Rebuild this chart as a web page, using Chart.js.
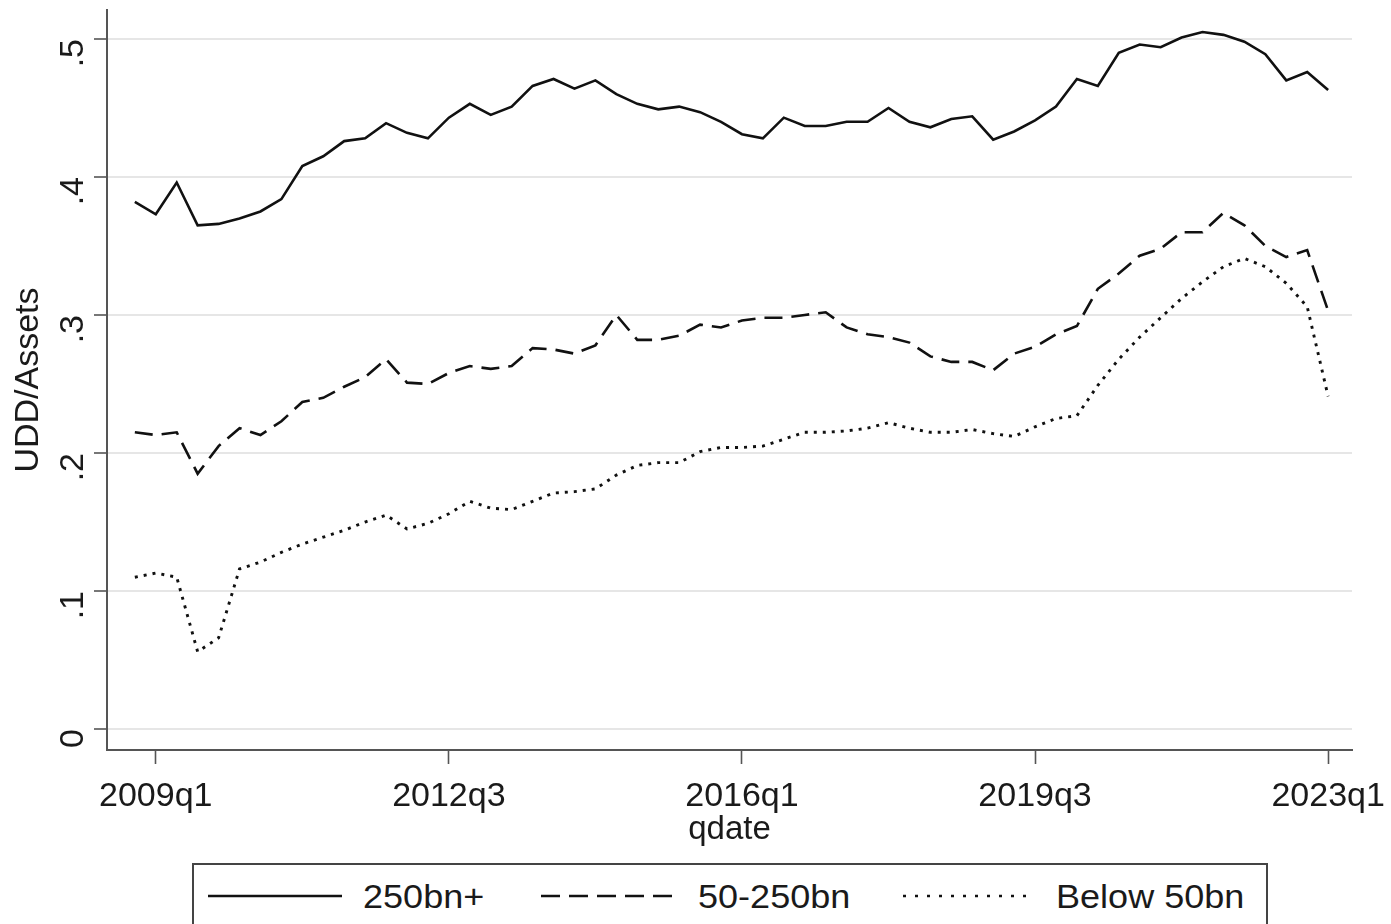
<!DOCTYPE html>
<html>
<head>
<meta charset="utf-8">
<script src="https://cdn.jsdelivr.net/npm/chart.js@4"></script>
<style>
  html, body { margin: 0; padding: 0; background: #fff; overflow: hidden; }
  #wrap { position: relative; width: 1391px; height: 924px; }
  #c { position: absolute; left: 0; top: 0; }
  #legend { position: absolute; left: 192px; top: 863px; width: 1076px; height: 90px;
            border: 2px solid #444; background: #fff; box-sizing: border-box;
            font-family: "Liberation Sans", Arial, sans-serif; font-size: 34px; color: #1a1a1a; }
  .item { position: absolute; top: 0; height: 62px; display: flex; align-items: center; }
  .item svg { display: block; }
  .item span { margin-left: 21px; white-space: nowrap; display: inline-block; transform: scaleX(1.06); transform-origin: left center; }
</style>
</head>
<body>
<div id="wrap">
  <canvas id="c" width="1391" height="924"></canvas>
  <div id="legend"></div>
</div>
<script>
const quarters = [
  "2008q4",
  "2009q1","2009q2","2009q3","2009q4",
  "2010q1","2010q2","2010q3","2010q4",
  "2011q1","2011q2","2011q3","2011q4",
  "2012q1","2012q2","2012q3","2012q4",
  "2013q1","2013q2","2013q3","2013q4",
  "2014q1","2014q2","2014q3","2014q4",
  "2015q1","2015q2","2015q3","2015q4",
  "2016q1","2016q2","2016q3","2016q4",
  "2017q1","2017q2","2017q3","2017q4",
  "2018q1","2018q2","2018q3","2018q4",
  "2019q1","2019q2","2019q3","2019q4",
  "2020q1","2020q2","2020q3","2020q4",
  "2021q1","2021q2","2021q3","2021q4",
  "2022q1","2022q2","2022q3","2022q4",
  "2023q1"
];

const seriesNames = ["250bn+", "50-250bn", "Below 50bn"];

const large = [0.382,0.373,0.396,0.365,0.366,0.370,0.375,0.384,0.408,0.415,
               0.426,0.428,0.439,0.432,0.428,0.443,0.453,0.445,0.451,0.466,
               0.471,0.464,0.470,0.460,0.453,0.449,0.451,0.447,0.440,0.431,
               0.428,0.443,0.437,0.437,0.440,0.440,0.450,0.440,0.436,0.442,
               0.444,0.427,0.433,0.441,0.451,0.471,0.466,0.490,0.496,0.494,
               0.501,0.505,0.503,0.498,0.489,0.470,0.476,0.463];

const mid = [0.215,0.213,0.215,0.185,0.205,0.218,0.213,0.223,0.237,0.240,
             0.248,0.255,0.268,0.251,0.250,0.258,0.263,0.261,0.263,0.276,
             0.275,0.272,0.278,0.300,0.282,0.282,0.285,0.293,0.291,0.296,
             0.298,0.298,0.300,0.302,0.291,0.286,0.284,0.280,0.270,0.266,
             0.266,0.260,0.272,0.277,0.286,0.292,0.319,0.330,0.343,0.348,
             0.360,0.360,0.374,0.365,0.350,0.342,0.347,0.303];

const small = [0.110,0.113,0.110,0.056,0.066,0.116,0.121,0.128,0.134,0.139,
               0.144,0.150,0.155,0.145,0.149,0.156,0.165,0.160,0.159,0.165,
               0.171,0.172,0.174,0.184,0.191,0.193,0.193,0.201,0.204,0.204,
               0.205,0.210,0.215,0.215,0.216,0.218,0.222,0.218,0.215,0.215,
               0.217,0.214,0.212,0.219,0.225,0.227,0.249,0.268,0.284,0.298,
               0.312,0.324,0.335,0.341,0.335,0.323,0.306,0.241];

const xTickLabels = ["2009q1","2012q3","2016q1","2019q3","2023q1"];
const yTickValues = [0, 0.1, 0.2, 0.3, 0.4, 0.5];
const yTickLabels = ["0", ".1", ".2", ".3", ".4", ".5"];

const dashes = [[], [18, 9], [3, 6]];
const widths = [2.6, 2.6, 2.9];
const FONT = "Liberation Sans, Arial, sans-serif";
const AXIS = "#555";
const TXT = "#1a1a1a";

function toPoints(arr) { return arr.map((v, i) => ({ x: i, y: v })); }
const xTickIdx = xTickLabels.map(l => quarters.indexOf(l));

const datasets = [large, mid, small].map((arr, k) => ({
  label: seriesNames[k],
  data: toPoints(arr),
  borderColor: "#111",
  borderWidth: widths[k],
  borderDash: dashes[k],
  pointRadius: 0,
  tension: 0,
  fill: false
}));

new Chart(document.getElementById("c"), {
  type: "line",
  data: { datasets },
  options: {
    responsive: false,
    animation: false,
    events: [],
    layout: { padding: { left: 0, right: 39, top: 10, bottom: 74 } },
    plugins: { legend: { display: false }, tooltip: { enabled: false } },
    scales: {
      x: {
        type: "linear",
        min: -1.33,
        max: 58.14,
        afterBuildTicks: s => { s.ticks = xTickIdx.map(v => ({ value: v })); },
        afterFit: s => { s.height = 100; s.paddingLeft = 0; s.paddingRight = 0; },
        ticks: {
          autoSkip: false, maxRotation: 0, minRotation: 0, padding: 12,
          color: TXT, font: { family: FONT, size: 34 },
          callback: v => quarters[v]
        },
        grid: { drawOnChartArea: false, drawTicks: true, tickLength: 14, tickColor: AXIS, tickWidth: 1.6 },
        border: { display: true, color: AXIS, width: 2 },
        title: { display: true, text: "qdate", color: TXT, font: { family: FONT, size: 33 }, padding: { top: -14, bottom: 0 } }
      },
      y: {
        type: "linear",
        min: -0.0152,
        max: 0.521,
        afterBuildTicks: s => { s.ticks = yTickValues.map(v => ({ value: v })); },
        afterFit: s => { s.width = 107; s.paddingTop = 0; s.paddingBottom = 0; },
        ticks: {
          autoSkip: false, minRotation: 90, maxRotation: 90, padding: 20,
          color: TXT, font: { family: FONT, size: 34 },
          callback: v => yTickLabels[yTickValues.indexOf(v)]
        },
        grid: { drawOnChartArea: true, color: "#e6e6e6", lineWidth: 2, drawTicks: true, tickLength: 13, tickColor: AXIS, tickWidth: 1.6 },
        border: { display: true, color: AXIS, width: 2 },
        title: { display: true, text: "UDD/Assets", color: TXT, font: { family: FONT, size: 34 }, padding: { top: 8, bottom: 0 } }
      }
    }
  }
});

// HTML legend
const legend = document.getElementById("legend");
const itemLeft = [14, 347, 709];
const sampleW = [134, 136, 132];
seriesNames.forEach((name, k) => {
  const d = document.createElement("div");
  d.className = "item";
  d.style.left = itemLeft[k] + "px";
  const dash = k === 1 ? 'stroke-dasharray="19 9"' : (k === 2 ? 'stroke-dasharray="3 9"' : '');
  d.innerHTML = '<svg width="' + sampleW[k] + '" height="10"><line x1="0" y1="5" x2="' + sampleW[k] +
    '" y2="5" stroke="#111" stroke-width="2.6" ' + dash + '/></svg><span>' + name + '</span>';
  legend.appendChild(d);
});
</script>
</body>
</html>
